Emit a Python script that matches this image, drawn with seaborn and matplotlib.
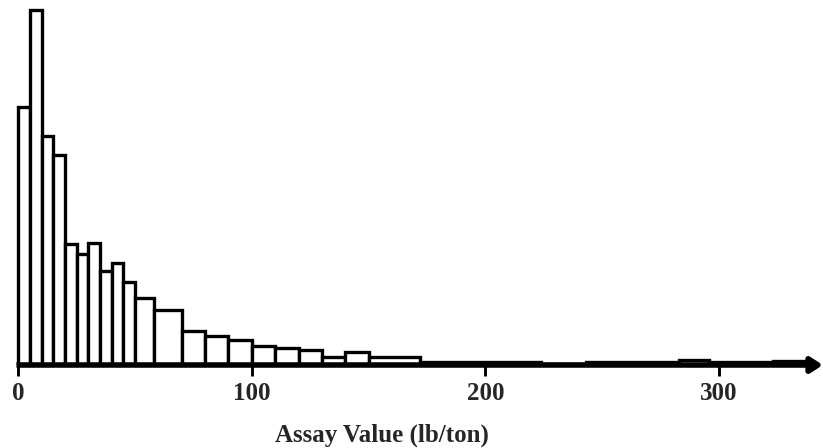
import numpy as np
import pandas as pd
import matplotlib
matplotlib.use("Agg")
import matplotlib.pyplot as plt
import seaborn as sns

# Histogram bin edges (lb/ton) and sample frequency in each bin
bin_edges = [0, 5, 10, 15, 20, 25, 30, 35, 40, 45, 50, 58, 70, 80, 90, 100,
             110, 120, 130, 140, 150, 172, 224, 243, 283, 296, 323, 338]
frequency = [129, 177.5, 114.5, 105, 60.5, 55.5, 61, 47, 51, 41.5, 33.5, 27.5,
             17, 14.5, 12.5, 9.5, 8.5, 7.5, 4, 6.5, 4, 1.4, 0.3, 1.4, 2.5, 1.4, 2.2]
tick_values = [0, 100, 200, 300]
x_label = "Assay Value (lb/ton)"

edges = np.array(bin_edges, dtype=float)
df = pd.DataFrame({
    "assay": (edges[:-1] + edges[1:]) / 2,
    "freq": frequency,
})

sns.set_style("white")
plt.rcParams["font.family"] = ["Liberation Serif", "DejaVu Serif"]

W, H = 823, 448
fig = plt.figure(figsize=(W / 100, H / 100), dpi=100)
base_px = 365
ax = fig.add_axes([0, (H - base_px) / H, 1, base_px / H])

sns.histplot(data=df, x="assay", weights="freq", bins=list(bin_edges),
             stat="count", color="white", edgecolor="black", linewidth=2.4,
             alpha=1, ax=ax)

x0_px, scale = 18.3, 2.335
ax.set_xlim(-x0_px / scale, (W - x0_px) / scale)
ax.set_ylim(0, base_px / 2.0)

for s in ax.spines.values():
    s.set_visible(False)
ax.set_yticks([])
ax.set_ylabel("")

# Horizontal axis drawn as an arrow
ax.annotate("", xy=((W - x0_px) / scale, 0), xytext=(-0.8, 0),
            xycoords="data", annotation_clip=False,
            arrowprops=dict(arrowstyle="-|>,head_length=0.7,head_width=0.45",
                            lw=4, color="black", shrinkA=0, shrinkB=0,
                            mutation_scale=10, capstyle="butt"))

ax.set_xticks(tick_values)
ax.set_xticklabels([str(v) for v in tick_values], fontweight="bold",
                   fontsize=18)
ax.tick_params(axis="x", direction="out", length=8, width=2.1,
               color="black", pad=4, bottom=True)

ax.set_xlabel(x_label, fontweight="bold", fontsize=18, va="top")
ax.xaxis.set_label_coords(382 / W, -(424 - base_px) / base_px)

fig.savefig("out.png", dpi=100, facecolor="white")
